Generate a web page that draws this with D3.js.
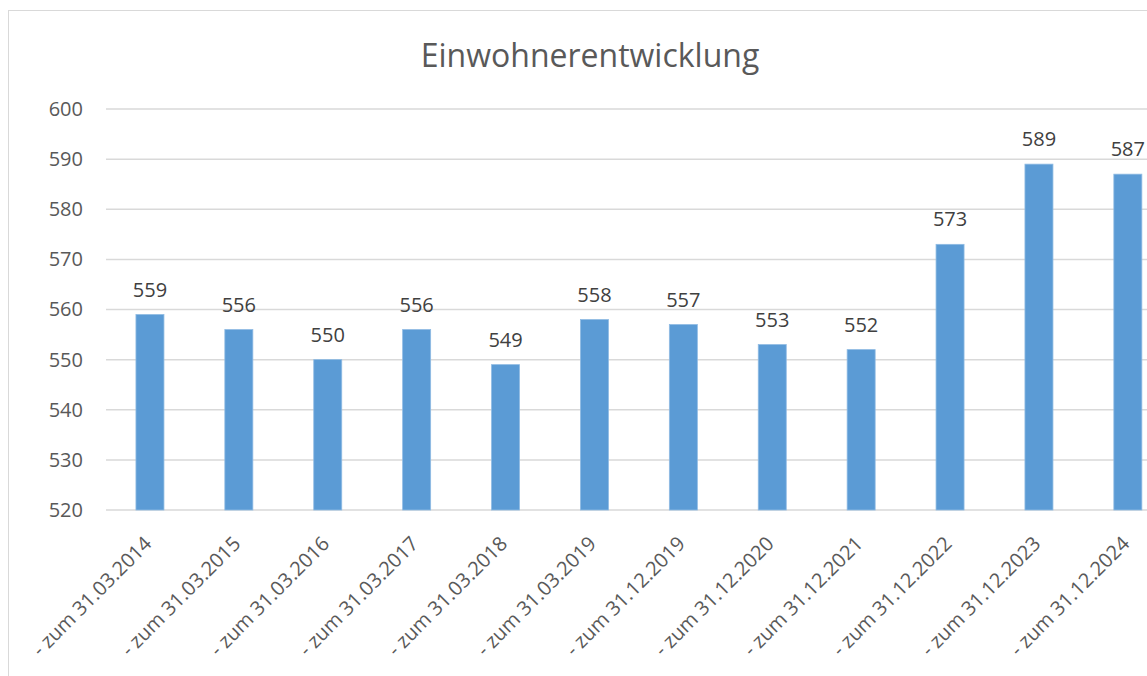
<!DOCTYPE html>
<html>
<head>
<meta charset="utf-8">
<script src="https://cdn.jsdelivr.net/npm/d3@7"></script>
<style>
  body { margin: 0; background: #fff; }
  svg { display: block; font-family: "Open Sans", sans-serif; }
</style>
</head>
<body>
<svg id="chart" width="1147" height="676"></svg>
<script>
const categories = [
  "- zum 31.03.2014", "- zum 31.03.2015", "- zum 31.03.2016", "- zum 31.03.2017",
  "- zum 31.03.2018", "- zum 31.03.2019", "- zum 31.12.2019", "- zum 31.12.2020",
  "- zum 31.12.2021", "- zum 31.12.2022", "- zum 31.12.2023", "- zum 31.12.2024"
];
const einwohner = [559, 556, 550, 556, 549, 558, 557, 553, 552, 573, 589, 587];
const yTicks = [520, 530, 540, 550, 560, 570, 580, 590, 600];
const title = "Einwohnerentwicklung";

const svg = d3.select("#chart");

// chart frame (runs past the right and bottom edge of the picture)
svg.append("rect")
  .attr("x", 8.5).attr("y", 10.5)
  .attr("width", 1200).attr("height", 700)
  .attr("fill", "#fff")
  .attr("stroke", "#d9d9d9");

const x = d3.scaleBand()
  .domain(categories)
  .range([105.5, 105.5 + 12 * 88.9])
  .paddingInner(0.685)
  .paddingOuter(0.3425);

const y = d3.scaleLinear()
  .domain([520, 600])
  .range([510, 109]);

// title
svg.append("text")
  .attr("x", 590).attr("y", 67)
  .attr("text-anchor", "middle")
  .attr("font-size", 32)
  .attr("fill", "#595959")
  .text(title);

// gridlines
svg.append("g")
  .selectAll("line")
  .data(yTicks)
  .join("line")
  .attr("x1", 106).attr("x2", x.range()[1])
  .attr("y1", d => y(d)).attr("y2", d => y(d))
  .attr("stroke", "#d9d9d9")
  .attr("stroke-width", 1.5);

// y axis labels
const yAxis = d3.axisLeft(y).tickValues(yTicks).tickSize(0).tickPadding(0);
svg.append("g")
  .attr("transform", "translate(83,0)")
  .call(yAxis)
  .call(g => g.select(".domain").remove())
  .selectAll("text")
  .attr("font-size", 20)
  .attr("font-family", "Open Sans, sans-serif")
  .attr("fill", "#595959");

// bars
svg.append("g")
  .selectAll("rect")
  .data(einwohner)
  .join("rect")
  .attr("x", (d, i) => x(categories[i]))
  .attr("y", d => y(d))
  .attr("width", x.bandwidth())
  .attr("height", d => y(520) - y(d))
  .attr("fill", "#5b9bd5")
  .attr("stroke", "#8fbbe3")
  .attr("stroke-width", 0.8);

// value labels
svg.append("g")
  .selectAll("text")
  .data(einwohner)
  .join("text")
  .attr("x", (d, i) => x(categories[i]) + x.bandwidth() / 2)
  .attr("y", d => y(d) - 18)
  .attr("text-anchor", "middle")
  .attr("font-size", 20)
  .attr("fill", "#404040")
  .text(d => d);

// x axis labels, rotated
svg.append("g")
  .selectAll("text")
  .data(categories)
  .join("text")
  .attr("transform", d => `translate(${x(d) + x.bandwidth() / 2 - 2},${540}) rotate(-45)`)
  .attr("text-anchor", "end")
  .attr("dy", "0.35em")
  .attr("font-size", 20)
  .attr("fill", "#595959")
  .text(d => d);
</script>
</body>
</html>
